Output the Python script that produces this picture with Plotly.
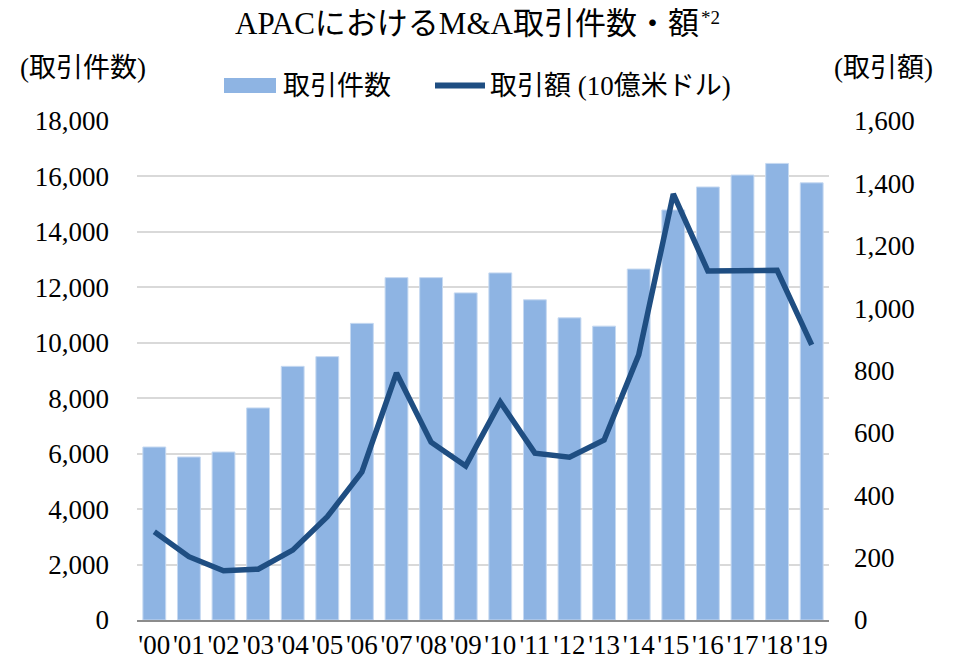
import plotly.graph_objects as go

# data
years = ["'00", "'01", "'02", "'03", "'04", "'05", "'06", "'07", "'08", "'09",
         "'10", "'11", "'12", "'13", "'14", "'15", "'16", "'17", "'18", "'19"]
deal_counts = [6240, 5880, 6060, 7650, 9150, 9500, 10700, 12350, 12350, 11800,
               12520, 11550, 10900, 10600, 12660, 14790, 15620, 16050, 16470, 15770]
deal_values = [283, 203, 158, 163, 224, 331, 475, 792, 570, 494,
               699, 535, 522, 577, 850, 1366, 1119, 1120, 1121, 882]

left_ticks = [0, 2000, 4000, 6000, 8000, 10000, 12000, 14000, 16000, 18000]
right_ticks = [0, 200, 400, 600, 800, 1000, 1200, 1400, 1600]

BAR_NAME = "取引件数"
LINE_NAME = "取引額 (10億米ドル)"
BAR_COLOR = "#8EB4E3"
LINE_COLOR = "#1F4E82"

FONT = "Liberation Serif, Times New Roman, Noto Sans CJK JP, serif"

# the page body adds an 8px margin, so the figure is drawn 8px in from the corner
OFF = 8
W, H = 953 - OFF, 661 - OFF
PL, PR, PT, PB = 137, 829, 121, 620  # plot area in page pixels
L, R, T, B = PL - OFF, 953 - PR, PT - OFF, 661 - PB
PW, PH = PR - PL, PB - PT


def px(x):
    # page x pixel -> paper fraction
    return (x - PL) / PW


def py(y):
    # page y pixel -> paper fraction
    return (PB - y) / PH


fig = go.Figure()

fig.add_trace(
    go.Bar(
        x=years,
        y=deal_counts,
        name=BAR_NAME,
        marker=dict(color=BAR_COLOR, line=dict(color="#C6D9F1", width=1)),
        yaxis="y",
        showlegend=False,
    )
)

fig.add_trace(
    go.Scatter(
        x=years,
        y=deal_values,
        name=LINE_NAME,
        mode="lines",
        line=dict(color=LINE_COLOR, width=5.5),
        yaxis="y2",
        showlegend=False,
    )
)

# legend drawn by hand so the swatches keep the reference's wide shape
shapes = [
    dict(type="rect", xref="paper", yref="paper",
         x0=px(224), x1=px(276), y0=py(93), y1=py(78),
         fillcolor=BAR_COLOR, line=dict(width=0)),
    dict(type="line", xref="paper", yref="paper",
         x0=px(435), x1=px(485), y0=py(85.5), y1=py(85.5),
         line=dict(color=LINE_COLOR, width=6)),
]

annotations = [
    dict(text="APACにおけるM&A取引件数・額", xref="paper", yref="paper",
         x=px(467), y=py(23.5), xanchor="center", yanchor="middle",
         borderpad=0,
         showarrow=False, font=dict(size=31)),
    dict(text="*2", xref="paper", yref="paper",
         x=px(700), y=py(18), xanchor="left", yanchor="middle",
         borderpad=0,
         showarrow=False, font=dict(size=19)),
    dict(text=BAR_NAME, xref="paper", yref="paper",
         x=px(281), y=py(86), xanchor="left", yanchor="middle",
         showarrow=False, font=dict(size=27)),
    dict(text=LINE_NAME, xref="paper", yref="paper",
         x=px(488), y=py(86), xanchor="left", yanchor="middle",
         showarrow=False, font=dict(size=27)),
    dict(text="(取引件数)", xref="paper", yref="paper",
         x=px(83), y=py(68), xanchor="center", yanchor="middle",
         showarrow=False, font=dict(size=27)),
    dict(text="(取引額)", xref="paper", yref="paper",
         x=px(883), y=py(68), xanchor="center", yanchor="middle",
         showarrow=False, font=dict(size=27)),
]

fig.update_layout(
    width=W,
    height=H,
    margin=dict(l=L, r=R, t=T, b=B, autoexpand=False),
    paper_bgcolor="white",
    plot_bgcolor="white",
    font=dict(family=FONT, size=27, color="black"),
    bargap=0.34,
    showlegend=False,
    shapes=shapes,
    annotations=annotations,
    xaxis=dict(
        type="category",
        showgrid=False,
        showline=True,
        linecolor="#8C8C8C",
        linewidth=1.5,
        ticks="",
        tickfont=dict(size=27),
        tickangle=0,
        automargin=False,
    ),
    yaxis=dict(
        range=[0, 18000],
        tickvals=left_ticks,
        tickformat=",d",
        showgrid=True,
        gridcolor="#D9D9D9",
        gridwidth=1.5,
        zeroline=False,
        ticks="",
        tickfont=dict(size=27),
        ticklabelstandoff=27,
        automargin=False,
    ),
    yaxis2=dict(
        range=[0, 1600],
        tickvals=right_ticks,
        tickformat=",d",
        overlaying="y",
        side="right",
        showgrid=False,
        zeroline=False,
        ticks="",
        tickfont=dict(size=27),
        ticklabelstandoff=24,
        automargin=False,
    ),
)

fig.write_html("out.html")
